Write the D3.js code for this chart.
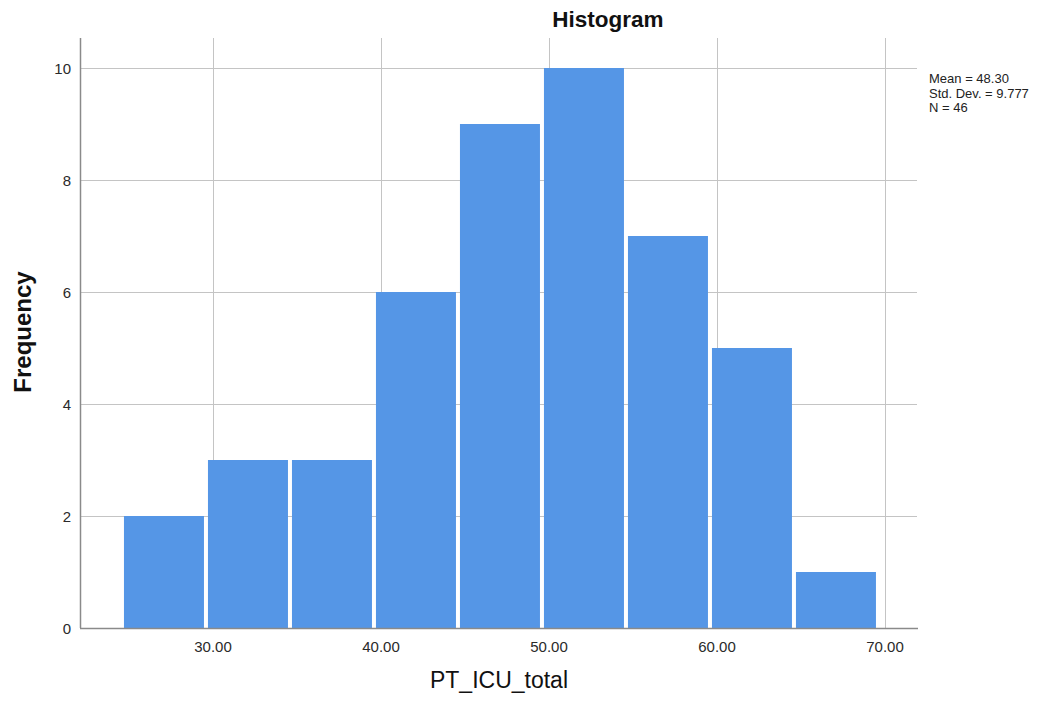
<!DOCTYPE html>
<html><head><meta charset="utf-8">
<script src="https://cdn.jsdelivr.net/npm/d3@7"></script>
<style>body{margin:0;background:#fff;} text{font-family:"Liberation Sans",Arial,sans-serif;}</style>
</head><body><svg id="c" width="1055" height="704"></svg>
<script>
const binStarts = [24.7, 29.7, 34.7, 39.7, 44.7, 49.7, 54.7, 59.7, 64.7];
const binWidth = 5;
const counts = [2, 3, 3, 6, 9, 10, 7, 5, 1];
const xTicks = [30, 40, 50, 60, 70];
const yTicks = [0, 2, 4, 6, 8, 10];
const statsLines = ["Mean = 48.30", "Std. Dev. = 9.777", "N = 46"];

const svg = d3.select("#c");
const L = 80, R = 917, T = 38, B = 628;
const x = d3.scaleLinear().domain([22.083, 71.905]).range([L, R]);
const y = d3.scaleLinear().domain([0, 10]).range([B, 68]);

// gridlines
svg.append("g").selectAll("line.h").data(yTicks.filter(d => d > 0)).join("line")
  .attr("x1", L).attr("x2", R).attr("y1", d => y(d)).attr("y2", d => y(d))
  .attr("stroke", "#c4c4c4").attr("stroke-width", 1).attr("shape-rendering", "crispEdges");
svg.append("g").selectAll("line.v").data(xTicks).join("line")
  .attr("x1", d => Math.round(x(d)) + 0.5).attr("x2", d => Math.round(x(d)) + 0.5).attr("y1", T).attr("y2", B)
  .attr("stroke", "#c4c4c4").attr("stroke-width", 1);

// bars
svg.append("g").selectAll("rect").data(counts).join("rect")
  .attr("x", (d, i) => x(binStarts[i]))
  .attr("width", (d, i) => x(binStarts[i] + binWidth) - x(binStarts[i]) - 4)
  .attr("y", d => y(d))
  .attr("height", d => B - y(d))
  .attr("fill", "#5596e6");

// axes lines
svg.append("line").attr("x1", L + 0.5).attr("x2", L + 0.5).attr("y1", T).attr("y2", B)
  .attr("stroke", "#8a8a8a").attr("stroke-width", 1.5);
svg.append("line").attr("x1", L).attr("x2", R + 1).attr("y1", B + 0.5).attr("y2", B + 0.5)
  .attr("stroke", "#8a8a8a").attr("stroke-width", 1.5);

// tick labels
svg.append("g").selectAll("text").data(yTicks).join("text")
  .attr("x", 71).attr("y", d => y(d) + 5.5).attr("text-anchor", "end")
  .attr("font-size", 15).attr("fill", "#2a2a2a").text(d => d);
svg.append("g").selectAll("text").data(xTicks).join("text")
  .attr("x", d => x(d)).attr("y", 652).attr("text-anchor", "middle")
  .attr("font-size", 15).attr("fill", "#2a2a2a").text(d => d3.format(".2f")(d));

// titles
svg.append("text").attr("x", 608).attr("y", 27).attr("text-anchor", "middle")
  .attr("font-size", 22.5).attr("font-weight", "bold").attr("fill", "#111").text("Histogram");
svg.append("text").attr("x", 499).attr("y", 688).attr("text-anchor", "middle")
  .attr("font-size", 23).attr("fill", "#111").text("PT_ICU_total");
svg.append("text").attr("transform", "translate(31,332) rotate(-90)").attr("text-anchor", "middle")
  .attr("font-size", 24).attr("font-weight", "bold").attr("fill", "#111").text("Frequency");

// stats
svg.append("g").selectAll("text").data(statsLines).join("text")
  .attr("x", 929).attr("y", (d, i) => 83 + i * 14.5)
  .attr("font-size", 13).attr("fill", "#222").text(d => d);
</script></body></html>
